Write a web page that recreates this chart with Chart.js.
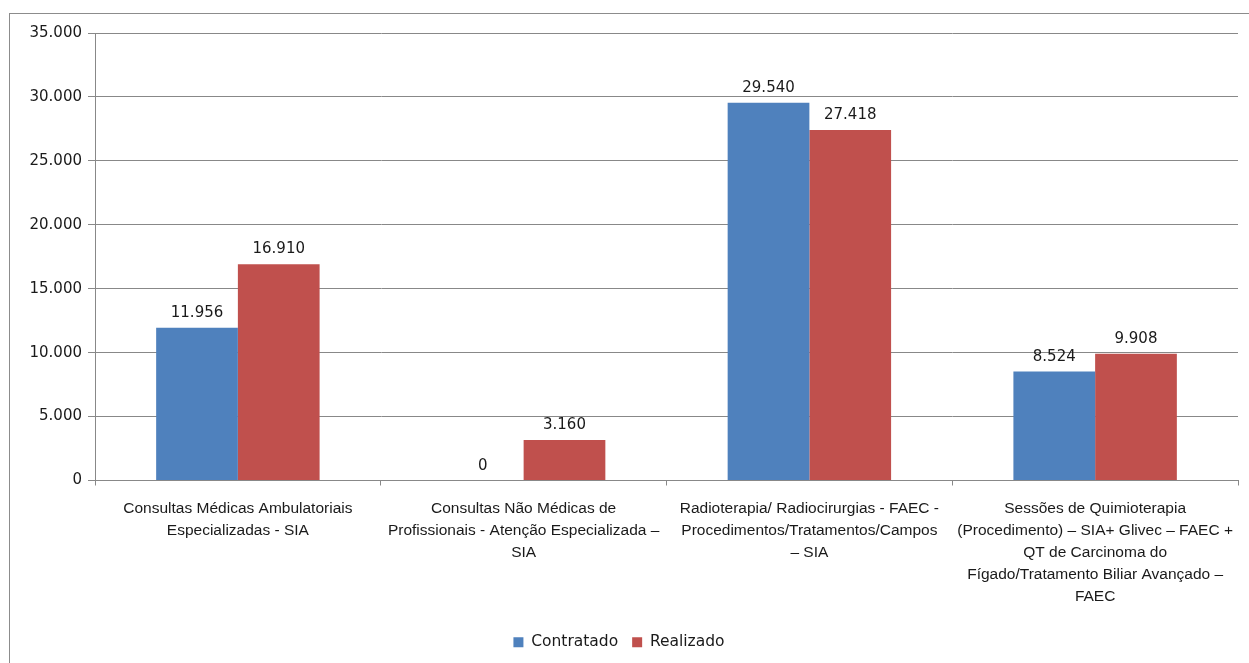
<!DOCTYPE html>
<html>
<head>
<meta charset="utf-8">
<script src="https://cdn.jsdelivr.net/npm/chart.js@4.4.1/dist/chart.umd.min.js"></script>
<style>
  html, body { margin: 0; padding: 0; background: #fff; overflow: hidden; }
  #wrap { position: relative; width: 1249px; height: 663px; overflow: hidden; }
  #frame { position: absolute; left: 9px; top: 13px; width: 1280px; height: 700px; border: 1px solid #8c8c8c; box-sizing: border-box; pointer-events: none; }
  canvas { position: absolute; left: 0; top: 0; }
</style>
</head>
<body>
<div id="wrap">
  <canvas id="chart" width="1249" height="663"></canvas>
  <div id="frame"></div>
</div>
<script>
(function() {
  'use strict';

  // ── Data ──────────────────────────────────────────────────────
  const categories = [
    ['Consultas Médicas Ambulatoriais', 'Especializadas - SIA'],
    ['Consultas Não Médicas de', 'Profissionais - Atenção Especializada –', 'SIA'],
    ['Radioterapia/ Radiocirurgias - FAEC -', 'Procedimentos/Tratamentos/Campos', '– SIA'],
    ['Sessões de Quimioterapia', '(Procedimento) – SIA+ Glivec – FAEC +', 'QT de Carcinoma do', 'Fígado/Tratamento Biliar Avançado –', 'FAEC']
  ];
  const contratado = [11956, 0, 29540, 8524];
  const realizado  = [16910, 3160, 27418, 9908];
  const seriesNames = ['Contratado', 'Realizado'];

  const COLORS = { blue: '#4F81BD', red: '#C0504D', grid: '#888888', text: '#1a1a1a' };

  const fmt = (v) => String(v).replace(/\B(?=(\d{3})+(?!\d))/g, '.');

  // value labels above bars
  const valueLabels = {
    id: 'valueLabels',
    afterDatasetsDraw(chart) {
      const ctx = chart.ctx;
      ctx.save();
      ctx.font = '15px "DejaVu Sans"';
      ctx.fillStyle = COLORS.text;
      ctx.textAlign = 'center';
      ctx.textBaseline = 'alphabetic';
      chart.data.datasets.forEach((ds, i) => {
        chart.getDatasetMeta(i).data.forEach((bar, j) => {
          ctx.fillText(fmt(ds.data[j]), bar.x, bar.y - 11);
        });
      });
      ctx.restore();
    }
  };

  new Chart(document.getElementById('chart'), {
    type: 'bar',
    data: {
      labels: categories,
      datasets: [
        { label: seriesNames[0], data: contratado, backgroundColor: COLORS.blue },
        { label: seriesNames[1], data: realizado,  backgroundColor: COLORS.red }
      ]
    },
    options: {
      responsive: false,
      animation: false,
      devicePixelRatio: 1,
      layout: { padding: { top: 33, right: 11, left: 0, bottom: 3 } },
      datasets: { bar: { categoryPercentage: 0.572, barPercentage: 1.0 } },
      plugins: {
        legend: {
          position: 'bottom',
          labels: {
            font: { family: 'DejaVu Sans', size: 15.5 },
            color: COLORS.text,
            boxWidth: 10,
            boxHeight: 10,
            padding: 14
          }
        },
        tooltip: { enabled: false }
      },
      scales: {
        x: {
          afterFit: (s) => { s.height = 140; },
          grid: { offset: true, drawOnChartArea: false, drawTicks: true, tickLength: 5, color: COLORS.grid },
          border: { color: COLORS.grid },
          ticks: {
            autoSkip: false, maxRotation: 0, minRotation: 0,
            font: { family: 'Liberation Sans', size: 15.5, lineHeight: 1.42 },
            color: COLORS.text,
            padding: 12
          }
        },
        y: {
          min: 0, max: 35000,
          afterFit: (s) => { s.width = 95; },
          grid: { color: COLORS.grid, tickLength: 7 },
          border: { color: COLORS.grid },
          ticks: {
            stepSize: 5000,
            font: { family: 'DejaVu Sans', size: 15 },
            color: COLORS.text,
            padding: 6,
            callback: (v) => fmt(v)
          }
        }
      }
    },
    plugins: [valueLabels]
  });
})();
</script>
</body>
</html>
